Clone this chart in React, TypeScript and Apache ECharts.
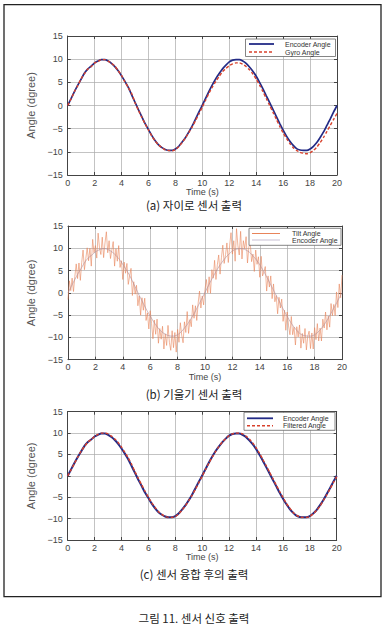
import React, { useEffect, useRef } from "react";
import * as echarts from "echarts";

// sampling steps (s)
const SAMPLE_DT = 0.25;
const TILT_DT = 0.1;

const xTickLabels = ["0", "2", "4", "6", "8", "10", "12", "14", "16", "18", "20"];
const yTickLabels = ["−15", "−10", "−5", "0", "5", "10", "15"];

const captions = ["(a) 자이로 센서 출력", "(b) 기울기 센서 출력", "(c) 센서 융합 후의 출력"];
const figureCaption = "그림 11. 센서 신호 출력";

const encoderAngle = [
  0, 1.5, 3.0, 4.4, 5.7, 7.0, 7.9, 8.5, 9.2, 9.6,
  9.9, 9.9, 9.6, 9.1, 8.4, 7.5, 6.4, 5.2, 3.9, 2.3,
  0.7, -0.9, -2.4, -3.9, -5.2, -6.5, -7.6, -8.5, -9.1, -9.5,
  -9.7, -9.7, -9.4, -8.8, -7.9, -6.9, -5.7, -4.4, -2.9, -1.4,
  0.1, 1.6, 3.1, 4.5, 5.8, 6.9, 7.9, 8.7, 9.4, 9.8,
  9.9, 9.9, 9.6, 9.1, 8.3, 7.4, 6.3, 5.0, 3.6, 2.1,
  0.6, -0.9, -2.4, -3.9, -5.3, -6.6, -7.7, -8.6, -9.3, -9.6,
  -9.7, -9.7, -9.4, -8.8, -8.0, -6.9, -5.7, -4.3, -2.9, -1.4,
  0,
];

const gyroAngle = [
  0, 1.4, 3.0, 4.3, 5.8, 6.9, 7.9, 8.4, 9.2, 9.5,
  9.9, 9.9, 9.6, 9.1, 8.5, 7.5, 6.5, 5.1, 3.9, 2.6,
  0.6, -1.0, -2.5, -4.0, -5.3, -6.6, -7.7, -8.5, -9.1, -9.6,
  -9.7, -9.8, -9.5, -8.9, -8.0, -7.0, -5.8, -4.6, -3.2, -1.8,
  -0.3, 1.2, 2.7, 4.0, 5.2, 6.3, 7.3, 8.0, 8.6, 9.0,
  9.2, 9.2, 8.9, 8.4, 7.7, 6.8, 5.7, 4.4, 3.0, 1.5,
  0.0, -1.5, -3.0, -4.5, -5.9, -7.1, -8.2, -9.1, -9.7, -10.1,
  -10.3, -10.4, -10.2, -9.7, -9.0, -8.0, -6.9, -5.6, -4.3, -3.0,
  -1.7,
];

const filteredAngle = [
  0, 1.4, 2.9, 4.4, 5.8, 6.9, 7.9, 8.5, 9.2, 9.7,
  10.0, 10.0, 9.8, 9.3, 8.6, 7.8, 6.7, 5.5, 4.2, 2.7,
  1.0, -0.6, -2.1, -3.6, -5.0, -6.3, -7.4, -8.4, -9.0, -9.5,
  -9.7, -9.7, -9.5, -8.9, -8.0, -7.0, -5.8, -4.5, -3.1, -1.6,
  -0.1, 1.5, 3.0, 4.4, 5.7, 6.9, 7.9, 8.7, 9.4, 9.8,
  10.0, 10.0, 9.8, 9.3, 8.6, 7.7, 6.6, 5.3, 3.9, 2.4,
  0.9, -0.6, -2.1, -3.6, -5.0, -6.4, -7.5, -8.5, -9.2, -9.6,
  -9.7, -9.7, -9.5, -8.9, -8.1, -7.1, -5.8, -4.5, -3.1, -1.6,
  -0.2,
];

const tiltAngle = [
  -1.5, 2.7, 0.5, 3.3, 0.3, 3.7, 6.5, 3.2, 6.7, 2.8,
  6.8, 9.6, 5.2, 7.7, 10.1, 7.2, 10.0, 6.0, 12.0, 9.0,
  10.6, 7.8, 13.4, 10.1, 8.6, 12.5, 7.9, 11.2, 13.7, 9.0,
  11.7, 7.7, 9.6, 11.5, 6.0, 9.9, 7.1, 10.6, 5.7, 7.2,
  3.0, 6.9, 4.4, 6.6, 1.9, 3.8, 5.5, -0.6, 2.5, -0.3,
  1.7, -2.9, -0.7, -5.0, -1.1, -3.9, -1.2, -6.2, -4.5, -8.1,
  -4.0, -6.9, -10.3, -6.1, -9.3, -5.9, -11.3, -8.0, -10.4, -7.5,
  -12.6, -9.2, -11.8, -7.3, -11.1, -12.9, -8.5, -12.3, -8.9, -13.3,
  -8.2, -11.1, -6.7, -9.5, -11.2, -6.5, -8.9, -4.2, -9.1, -6.0,
  -7.6, -2.7, -5.7, -2.9, -6.2, -2.3, 0.4, -3.4, -0.7, -2.7,
  0.8, 3.0, 0.0, 3.6, -0.1, 5.2, 3.3, 7.3, 3.0, 6.3,
  8.5, 4.2, 7.9, 10.7, 6.6, 8.6, 11.2, 6.8, 10.7, 13.5,
  8.7, 11.7, 7.1, 14.4, 10.6, 8.5, 13.8, 7.6, 11.7, 9.9,
  12.6, 6.7, 10.2, 11.4, 7.0, 8.7, 4.8, 9.6, 6.4, 8.1,
  3.5, 8.2, 3.8, 4.7, 5.9, 0.4, 3.8, 1.3, 3.8, -1.3,
  2.0, -2.0, -0.6, -4.7, -1.0, -3.4, -1.4, -6.4, -3.9, -8.4,
  -4.3, -7.4, -9.4, -5.3, -9.4, -7.7, -11.7, -7.6, -9.9, -7.2,
  -12.4, -9.1, -11.3, -8.0, -12.8, -9.7, -8.6, -12.5, -9.0, -12.6,
  -7.8, -10.5, -6.9, -10.8, -7.9, -10.8, -5.9, -7.9, -4.3, -8.3,
  -5.2, -7.7, -2.4, -5.1, -2.6, -5.1, 0.2, -3.3, 2.0, -1.1,
  4.0,
];

function toPairs(vals: number[], dt: number) {
  return vals.map((v, i) => [Math.round(i * dt * 100) / 100, v]);
}

const FONT = "'Liberation Sans', Arial, sans-serif";
const KFONT = "'Noto Sans CJK KR', 'Noto Sans', sans-serif";
const NAVY = "#232b86";
const RED = "#d8412c";
const TILT = "#e8845a";

const grids = [
  { left: 67.7, top: 36, width: 269.3, height: 139 },
  { left: 68, top: 226, width: 274, height: 133.7 },
  { left: 67.7, top: 411.7, width: 269, height: 128.3 },
];

export default function App() {
  const ref = useRef<HTMLDivElement>(null);
  useEffect(() => {
    document.body.style.margin = "0";
    if (!ref.current) return;
    const chart = echarts.init(ref.current, undefined, { renderer: "svg" });

    const xAxes: any[] = [];
    const yAxes: any[] = [];
    grids.forEach((_, i) => {
      xAxes.push({
        type: "value", gridIndex: i, min: 0, max: 20, interval: 2, position: "bottom",
        axisLine: { show: true, onZero: false, lineStyle: { color: "#444", width: 1 } },
        axisTick: { show: true, inside: true, length: 3, lineStyle: { color: "#444" } },
        axisLabel: {
          color: "#444", fontSize: 9, margin: 3, fontFamily: FONT,
          formatter: (v: number) => xTickLabels[Math.round(v / 2)] ?? "",
        },
        splitLine: { show: true, lineStyle: { color: "#a9a9a9", width: 0.7 } },
        name: "Time (s)", nameLocation: "middle", nameGap: 10,
        nameTextStyle: { color: "#444", fontSize: 9, fontFamily: FONT },
      });
      xAxes.push({
        type: "value", gridIndex: i, min: 0, max: 20, interval: 2, position: "top",
        axisLine: { show: true, onZero: false, lineStyle: { color: "#444", width: 1 } },
        axisTick: { show: true, inside: true, length: 3, lineStyle: { color: "#444" } },
        axisLabel: { show: false }, splitLine: { show: false },
      });
      yAxes.push({
        type: "value", gridIndex: i, min: -15, max: 15, interval: 5, position: "left",
        axisLine: { show: true, onZero: false, lineStyle: { color: "#444", width: 1 } },
        axisTick: { show: true, inside: true, length: 3, lineStyle: { color: "#444" } },
        axisLabel: {
          color: "#444", fontSize: 9, margin: 5, fontFamily: FONT,
          formatter: (v: number) => yTickLabels[Math.round((v + 15) / 5)] ?? "",
        },
        splitLine: { show: true, lineStyle: { color: "#a9a9a9", width: 0.7 } },
        name: "Angle (dgree)", nameLocation: "middle", nameGap: 19,
        nameTextStyle: { color: "#555", fontSize: 11, fontFamily: FONT },
      });
      yAxes.push({
        type: "value", gridIndex: i, min: -15, max: 15, interval: 5, position: "right",
        axisLine: { show: true, onZero: false, lineStyle: { color: "#444", width: 1 } },
        axisTick: { show: true, inside: true, length: 3, lineStyle: { color: "#444" } },
        axisLabel: { show: false }, splitLine: { show: false },
      });
    });

    const lineBase = { type: "line", showSymbol: false, symbol: "none", smooth: 0.2, silent: true };

    const series: any[] = [
      { ...lineBase, name: "Encoder Angle", xAxisIndex: 0, yAxisIndex: 0,
        data: toPairs(encoderAngle, SAMPLE_DT), lineStyle: { color: NAVY, width: 1.7 }, z: 2 },
      { ...lineBase, name: "Gyro Angle", xAxisIndex: 0, yAxisIndex: 0,
        data: toPairs(gyroAngle, SAMPLE_DT), lineStyle: { color: RED, width: 1.4, type: [3, 2] }, z: 3 },
      { ...lineBase, name: "Tilt Angle", xAxisIndex: 2, yAxisIndex: 2, smooth: false,
        data: toPairs(tiltAngle, TILT_DT), lineStyle: { color: TILT, width: 0.7, opacity: 0.85 }, z: 2 },
      { ...lineBase, name: "Encoder Angle", xAxisIndex: 2, yAxisIndex: 2,
        data: toPairs(encoderAngle, SAMPLE_DT), lineStyle: { color: "#b0909c", width: 0.8, opacity: 0.8 }, z: 3 },
      { ...lineBase, name: "Encoder Angle", xAxisIndex: 4, yAxisIndex: 4,
        data: toPairs(encoderAngle, SAMPLE_DT), lineStyle: { color: NAVY, width: 2 }, z: 2 },
      { ...lineBase, name: "Filtered Angle", xAxisIndex: 4, yAxisIndex: 4,
        data: toPairs(filteredAngle, SAMPLE_DT), lineStyle: { color: RED, width: 1.4, type: [3, 2] }, z: 3 },
    ];

    const legendBox = (x: number, y: number, w: number, h: number,
      items: { y: number; color: string; width: number; dash?: number[]; text: string }[],
      lx1: number, lx2: number, tx: number) => ({
      type: "group", z: 100,
      children: [
        { type: "rect", z: 100, shape: { x, y, width: w, height: h },
          style: { fill: "#fff", stroke: "#666", lineWidth: 0.8 } },
        ...items.flatMap((it) => [
          { type: "line", z: 101, shape: { x1: lx1, y1: it.y, x2: lx2, y2: it.y },
            style: it.dash
              ? { stroke: it.color, lineWidth: it.width, lineDash: it.dash }
              : { stroke: it.color, lineWidth: it.width } },
          { type: "text", z: 101, x: tx, y: it.y,
            style: { text: it.text, fill: "#333", font: `7px ${FONT}`, align: "left", verticalAlign: "middle" } },
        ]),
      ],
    });

    const caption = (text: string, y: number) => ({
      type: "text", x: 194, y, z: 100,
      style: { text, fill: "#222", font: `11.5px ${KFONT}`, align: "center", verticalAlign: "middle" },
    });

    const graphic: any[] = [
      { type: "rect", z: 50, shape: { x: 4, y: 4.7, width: 377, height: 592 },
        style: { fill: "none", stroke: "#222", lineWidth: 1.3 } },
      legendBox(245.5, 39, 90, 17.5, [
        { y: 44, color: NAVY, width: 1.8, text: "Encoder Angle" },
        { y: 52, color: RED, width: 1.4, dash: [3, 2], text: "Gyro Angle" },
      ], 249, 274, 285),
      legendBox(249, 228.3, 92, 17, [
        { y: 233.5, color: TILT, width: 1, text: "Tilt Angle" },
        { y: 240, color: "#b9aec8", width: 0.8, text: "Encoder Angle" },
      ], 252, 280, 292),
      legendBox(244, 412.3, 91, 18, [
        { y: 418.3, color: NAVY, width: 1.8, text: "Encoder Angle" },
        { y: 425.7, color: RED, width: 1.4, dash: [3, 2], text: "Filtered Angle" },
      ], 247, 273, 283),
      caption(captions[0], 205),
      caption(captions[1], 393.5),
      caption(captions[2], 573.5),
      caption(figureCaption, 618),
    ];

    chart.setOption({
      animation: false,
      backgroundColor: "#fff",
      grid: grids.map((g) => ({ ...g, containLabel: false })),
      xAxis: xAxes,
      yAxis: yAxes,
      series,
      graphic,
    });
    return () => chart.dispose();
  }, []);
  return <div ref={ref} style={{ width: 388, height: 629 }} />;
}
